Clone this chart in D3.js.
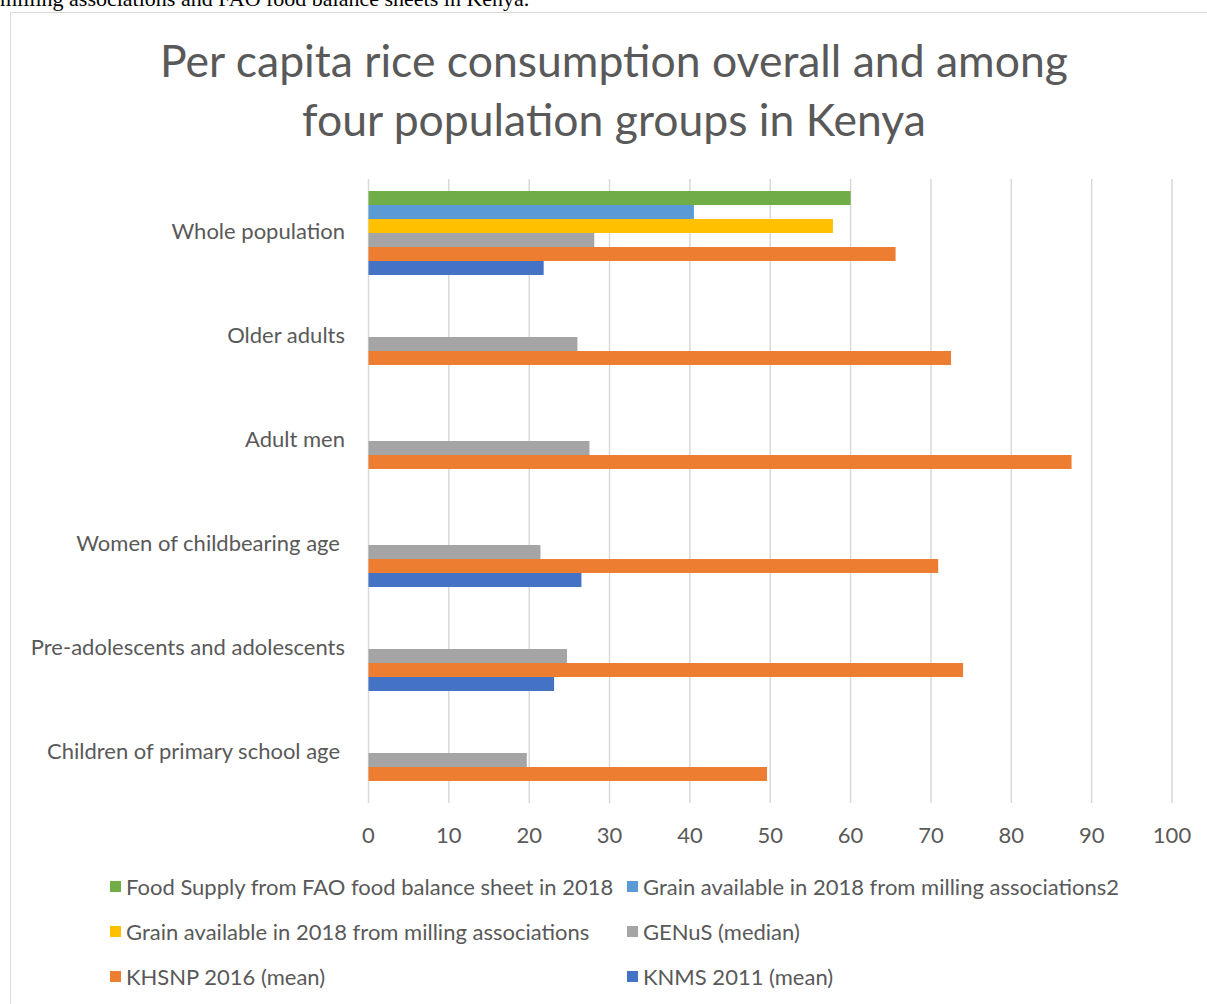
<!DOCTYPE html>
<html>
<head>
<meta charset="utf-8">
<script src="https://cdn.jsdelivr.net/npm/d3@7"></script>
<style>
  body { margin: 0; background: #fff; }
  svg { display: block; }
</style>
</head>
<body>
<div id="chart"></div>
<script>
// Data
const categories = [
  'Whole population',
  'Older adults',
  'Adult men',
  'Women of childbearing age',
  'Pre-adolescents and adolescents',
  'Children of primary school age'
];
const seriesNames = [
  'Food Supply from FAO food balance sheet in 2018',
  'Grain available in 2018 from milling associations2',
  'Grain available in 2018 from milling associations',
  'GENuS (median)',
  'KHSNP 2016 (mean)',
  'KNMS 2011 (mean)'
];
const seriesColors = ['#70ad47', '#5b9bd5', '#ffc000', '#a5a5a5', '#ed7d31', '#4472c4'];
// one array per series, in category order (null = no value)
const faoSupply   = [60, null, null, null, null, null];
const grainMill2  = [40.5, null, null, null, null, null];
const grainMill   = [57.8, null, null, null, null, null];
const genus       = [28.1, 26.0, 27.5, 21.4, 24.7, 19.7];
const khsnp       = [65.6, 72.5, 87.5, 70.9, 74.0, 49.6];
const knms        = [21.8, null, null, 26.5, 23.1, null];
const seriesValues = [faoSupply, grainMill2, grainMill, genus, khsnp, knms];
const xTicks = [0, 10, 20, 30, 40, 50, 60, 70, 80, 90, 100];

const W = 1207, H = 1004;
const FONT = 'Lato, "Open Sans", sans-serif';
const GREY_TEXT = '#595959';
const plot = { left: 368.5, right: 1172, top: 179, bottom: 803 };

const svg = d3.select('#chart').append('svg')
  .attr('width', W).attr('height', H);

// line of document text above the chart, clipped by the page top as in the source
svg.append('text')
  .attr('x', 0).attr('y', 6)
  .attr('font-family', '"Liberation Serif", "DejaVu Serif", serif')
  .attr('font-size', 22)
  .attr('fill', '#000')
  .text('milling associations and FAO food balance sheets in Kenya.');

// chart frame
svg.append('rect')
  .attr('x', 10.5).attr('y', 12.5)
  .attr('width', W).attr('height', H)
  .attr('fill', '#fff')
  .attr('stroke', '#d9d9d9').attr('stroke-width', 1);

// title
const title = svg.append('text')
  .attr('text-anchor', 'middle')
  .attr('font-family', FONT)
  .attr('font-size', 44.5)
  .attr('fill', GREY_TEXT);
title.append('tspan').attr('x', 614).attr('y', 77)
  .text('Per capita rice consumption overall and among');
title.append('tspan').attr('x', 614).attr('y', 136)
  .text('four population groups in Kenya');

const x = d3.scaleLinear().domain([0, 100]).range([plot.left, plot.right]);
const y = d3.scaleBand().domain(categories).range([plot.top, plot.bottom]);
// six series share 84 of each 104 px band
const inner = d3.scaleBand().domain(d3.range(seriesNames.length))
  .range([12, y.bandwidth() - 8]);

// gridlines
svg.append('g')
  .selectAll('line')
  .data(xTicks)
  .join('line')
  .attr('x1', d => x(d)).attr('x2', d => x(d))
  .attr('y1', plot.top).attr('y2', plot.bottom)
  .attr('stroke', '#d9d9d9').attr('stroke-width', 1.5);

// bars
const barData = [];
seriesValues.forEach((vals, si) => {
  vals.forEach((v, ci) => {
    if (v != null) barData.push({ si, cat: categories[ci], v });
  });
});
svg.append('g')
  .selectAll('rect')
  .data(barData)
  .join('rect')
  .attr('x', x(0))
  .attr('y', d => y(d.cat) + inner(d.si))
  .attr('width', d => x(d.v) - x(0))
  .attr('height', inner.bandwidth())
  .attr('fill', d => seriesColors[d.si]);

// category labels
svg.append('g')
  .selectAll('text')
  .data(categories)
  .join('text')
  .attr('x', (d, i) => (i === 3 || i === 5) ? 340 : 345)
  .attr('y', d => y(d) + y.bandwidth() / 2)
  .attr('dy', '0.35em')
  .attr('text-anchor', 'end')
  .attr('font-family', FONT)
  .attr('font-size', 22)
  .attr('fill', GREY_TEXT)
  .text(d => d);

// x tick labels
svg.append('g')
  .selectAll('text')
  .data(xTicks)
  .join('text')
  .attr('x', d => x(d))
  .attr('y', 835)
  .attr('dy', '0.35em')
  .attr('text-anchor', 'middle')
  .attr('font-family', FONT)
  .attr('font-size', 22)
  .attr('fill', GREY_TEXT)
  .text(d => d);

// legend: two columns, three rows
const legendCols = [110, 627];
const legendRows = [887, 932, 977];
const legend = svg.append('g')
  .selectAll('g')
  .data(seriesNames)
  .join('g')
  .attr('transform', (d, i) => `translate(${legendCols[i % 2]},${legendRows[Math.floor(i / 2)]})`);
legend.append('rect')
  .attr('x', 0).attr('y', -6)
  .attr('width', 11).attr('height', 11)
  .attr('fill', (d, i) => seriesColors[i]);
legend.append('text')
  .attr('x', 16).attr('y', 0)
  .attr('dy', '0.35em')
  .attr('font-family', FONT)
  .attr('font-size', 22)
  .attr('fill', GREY_TEXT)
  .text(d => d);
</script>
</body>
</html>
